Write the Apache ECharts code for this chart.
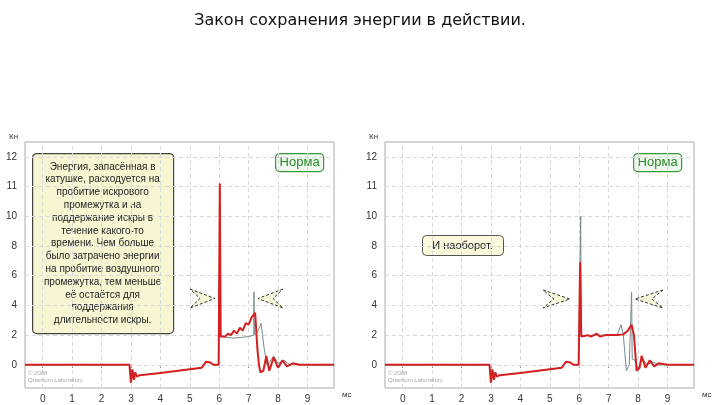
<!DOCTYPE html><html><head><meta charset="utf-8"><script src="https://cdn.jsdelivr.net/npm/echarts@6/dist/echarts.min.js"></script></head><body style="margin:0"><div id="c" style="width:720px;height:405px"></div><script>
const title = 'Закон сохранения энергии в действии.';
const xTicks = [0,1,2,3,4,5,6,7,8,9];
const yTickLabels = [0,2,4,6,8,10,11,12];
const common = [[-0.6,0],[2.95,0],[3.0,-1.2],[3.05,-0.3],[3.1,-1.0],[3.15,-0.5],[3.2,-0.8],[3.3,-0.7],[4,-0.55],[5,-0.3],[5.4,-0.2],[5.55,0.2],[5.7,0.15],[5.8,0],[5.98,0]];
const leftRed = common.concat([[6.02,11.1],[6.05,1.9],[6.2,1.9],[6.3,2.1],[6.4,2.0],[6.5,2.3],[6.6,2.1],[6.7,2.5],[6.8,2.3],[6.9,2.8],[7.0,2.7],[7.1,3.2],[7.22,3.5],[7.3,1.0],[7.35,0],[7.4,-0.5],[7.5,-0.4],[7.6,0.6],[7.7,-0.4],[7.85,0.5],[8.0,-0.2],[8.15,0.3],[8.3,-0.1],[8.5,0.1],[8.7,0],[9.9,0]]);
const leftGray = common.concat([[6.02,10],[6.05,1.9],[6.5,1.8],[7.0,1.9],[7.18,2.0],[7.18,4.9],[7.19,2.0],[7.3,2.2],[7.42,2.8],[7.52,1.2],[7.62,0],[7.72,0.2],[7.85,0.6],[8.0,0.1],[8.2,0.3],[8.4,0],[8.6,0.1],[8.8,0],[9.9,0]]);
const rightRed = common.concat([[6.03,6.9],[6.07,1.9],[6.3,2.0],[6.4,1.9],[6.6,2.1],[6.7,1.9],[6.9,2.0],[7.1,2.0],[7.3,2.0],[7.5,2.05],[7.65,2.3],[7.78,2.7],[7.86,2.0],[7.95,-0.4],[8.05,-0.2],[8.12,0.6],[8.25,-0.2],[8.4,0.3],[8.55,-0.1],[8.7,0.1],[9.0,0],[9.9,0]]);
const rightGray = common.concat([[6.05,10],[6.07,1.9],[6.5,2.0],[7.0,2.0],[7.3,2.05],[7.42,2.7],[7.5,2.0],[7.6,-0.4],[7.7,0],[7.78,4.9],[7.8,0.4],[7.9,0.3],[8.0,-0.3],[8.15,0.4],[8.3,0],[8.5,0.2],[8.7,0],[9.9,0]]);
const toAx = v => v <= 10 ? v/2 : 5 + (v-10);
const fromAx = a => a <= 5 ? a*2 : 10 + (a-5);
const conv = arr => arr.map(p => [p[0], toAx(p[1])]);
const ax = yTickLabels.map(toAx);
function xA(i){return {gridIndex:i,type:'value',min:-0.6,max:9.9,interval:1,
  axisLine:{show:false},
  axisLabel:{color:'#333',fontSize:10,fontFamily:'Arial',customValues:xTicks,margin:6},
  axisTick:{customValues:xTicks,lineStyle:{color:'#666'},length:3},
  splitLine:{show:false}};}
function yA(i){return {gridIndex:i,type:'value',min:-0.78,max:7.5,
  axisLine:{show:false},
  axisLabel:{color:'#333',fontSize:10,fontFamily:'Arial',customValues:ax,formatter:v=>String(Math.round(fromAx(v)))},
  axisTick:{customValues:ax,lineStyle:{color:'#666'},length:3},splitLine:{show:false}};}
const series=[];
[[leftGray,leftRed],[rightGray,rightRed]].forEach((pr,i)=>{
  series.push({type:'line',xAxisIndex:i,yAxisIndex:i,data:[],silent:true,z:1,
    markLine:{symbol:'none',silent:true,z:1,label:{show:false},lineStyle:{color:'#d8d8d8',type:[4,3],width:1},
      data:xTicks.map(x=>({xAxis:x})).concat(ax.map(y=>({yAxis:y})))}});
  series.push({type:'line',xAxisIndex:i,yAxisIndex:i,data:conv(pr[0]),showSymbol:false,lineStyle:{color:'#7a8a8a',width:1},z:5});
  series.push({type:'line',xAxisIndex:i,yAxisIndex:i,data:conv(pr[1]),showSymbol:false,lineStyle:{color:'#d42020',width:2},z:6});
});
function chevron(x,y,w,h,dir){const p=dir>0?[[x,y],[x+w,y+h/2],[x,y+h],[x+w*0.4,y+h/2]]:[[x+w,y],[x,y+h/2],[x+w,y+h],[x+w*0.6,y+h/2]];
  return {type:'polygon',shape:{points:p},style:{fill:'#f6f6d8',stroke:'#333',lineWidth:1,lineDash:[3,2]},z:10};}
function norma(x){return {type:'group',left:x,top:153,z:10,children:[{type:'rect',shape:{width:48,height:18,r:4},style:{fill:'#eef8ee',stroke:'#3a9a3a',lineWidth:1.2}},
  {type:'text',style:{text:'Норма',x:24,y:9,align:'center',verticalAlign:'middle',fill:'#2a8a2a',font:'13px Arial'}}]};}
const bigText='Энергия, запасённая в\nкатушке, расходуется на\nпробитие искрового\nпромежутка и на\nподдержание искры в\nтечение какого-то\nвремени. Чем больше\nбыло затрачено энергии\nна пробитие воздушного\nпромежутка, тем меньше\nеё остаётся для\nподдержания\nдлительности искры.';
const wm=x=>({type:'text',left:x,top:370,z:10,style:{text:'© 2008\nQuantum Laboratory',fill:'#aaa',font:'6px Arial',lineHeight:7}});
const ch=echarts.init(document.getElementById('c'));
ch.setOption({backgroundColor:'#fff',animation:false,
 title:{text:title,left:'center',top:8,textStyle:{fontFamily:'DejaVu Sans',fontWeight:'normal',fontSize:16,color:'#111'}},
 grid:[{left:25,right:386,top:142,bottom:17,show:true,borderColor:'#aaa',backgroundColor:'#fff'},{left:385,right:26,top:142,bottom:17,show:true,borderColor:'#aaa',backgroundColor:'#fff'}],
 xAxis:[xA(0),xA(1)],yAxis:[yA(0),yA(1)],series,
 graphic:[
  {type:'text',left:9,top:133,style:{text:'Кн',font:'8px Arial',fill:'#333'}},
  {type:'text',left:369,top:133,style:{text:'Кн',font:'8px Arial',fill:'#333'}},
  {type:'text',left:342,top:391,style:{text:'мс',font:'8px Arial',fill:'#333'}},
  {type:'text',left:702,top:391,style:{text:'мс',font:'8px Arial',fill:'#333'}},
  {type:'group',left:32,top:153,z:10,children:[{type:'rect',shape:{width:141,height:180,r:4},style:{fill:'#f8f5d2',stroke:'#444',lineWidth:1.2}},
    {type:'text',style:{text:bigText,x:70,y:90,align:'center',verticalAlign:'middle',fill:'#222',font:'10px Arial',lineHeight:12.8}}]},
  {type:'group',left:422,top:235,z:10,children:[{type:'rect',shape:{width:81,height:20,r:4},style:{fill:'#fbf8dc',stroke:'#555',lineWidth:1}},
    {type:'text',style:{text:'И наоборот.',x:40,y:10,align:'center',verticalAlign:'middle',fill:'#222',font:'11px Arial'}}]},
  norma(275),norma(633),
  chevron(190,289,25,19,1),chevron(258,289,25,19,-1),
  chevron(543,290,27,18,1),chevron(635,290,28,18,-1),
  wm(28),wm(388)
 ]});
</script></body></html>
